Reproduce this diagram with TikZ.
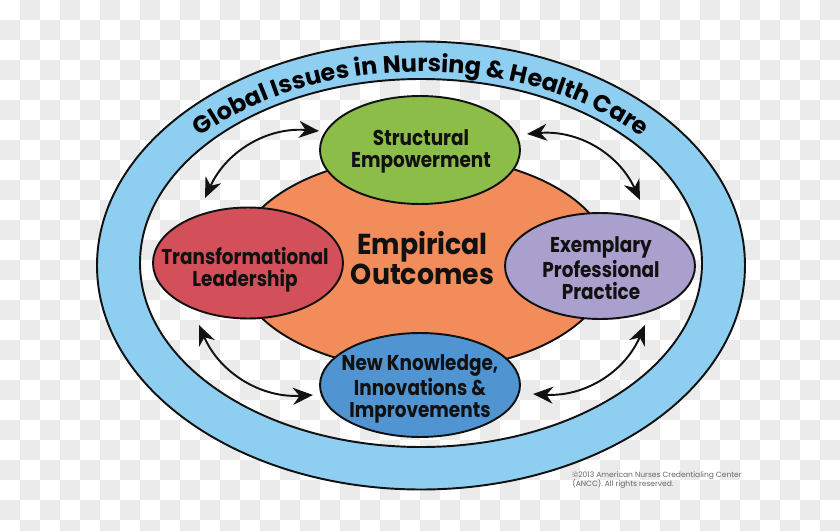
\documentclass[tikz,border=0pt]{standalone}
\usepackage{fontspec}
\newfontfamily\magfont{Poppins}[FakeStretch=0.86]
\newfontfamily\corefont{Poppins}[FakeStretch=0.93]
\newfontfamily\ringfont{Poppins}
\newfontfamily\notefont{Poppins}
\usetikzlibrary{arrows.meta,shapes.geometric,decorations.text}
\definecolor{mgink}{HTML}{111111}
\definecolor{mgring}{HTML}{8ECEF0}
\definecolor{mggreen}{HTML}{8BBD48}
\definecolor{mgorange}{HTML}{F28C5B}
\definecolor{mgred}{HTML}{D3505A}
\definecolor{mgpurple}{HTML}{AAA0CD}
\definecolor{mgblue}{HTML}{5094D1}
\definecolor{mgcheck}{HTML}{EBEBEB}
\definecolor{mgnote}{HTML}{666666}
\newcommand\mgringfont{\ringfont\bfseries\fontsize{13.6}{14}\selectfont}
\tikzset{
  mg check/.style={fill=mgcheck},
  mg ring line/.style={draw=mgink, line width=1.1pt},
  mg oval/.style={ellipse, draw=mgink, line width=1.1pt, inner sep=0pt},
  mg text/.style={font=\magfont\bfseries\fontsize{12.2}{12.6}\selectfont, text=mgink,
    align=center, inner sep=0pt},
  mg big/.style={font=\corefont\bfseries\fontsize{16.4}{17}\selectfont, text=mgink,
    align=center, inner sep=0pt},
  mg arrow/.style={{Stealth[length=4mm,width=3.4mm]}-{Stealth[length=4mm,width=3.4mm]},
    line width=1.1pt, draw=mgink},
  mg note/.style={font=\notefont\fontsize{4.3}{5.4}\selectfont, text=mgnote, align=left,
    inner sep=0pt}
}
\begin{document}
\begin{tikzpicture}[x=0.02cm, y=-0.02cm]
  \useasboundingbox (0,0) rectangle (840,531);
  % checkered backdrop
  \begin{scope}
    \clip (0,0) rectangle (840,531);
    \fill[white] (0,0) rectangle (840,531);
    \foreach \col in {0,...,41}{
      \foreach \row in {0,...,26}{
        \ifodd\numexpr\col+\row\relax
          \fill[mg check] (\col*20,\row*20) rectangle ++(20,20);
        \fi
      }
    }
  \end{scope}
  % outer ring
  \fill[mgring, even odd rule] (421,265.5) ellipse[x radius=324, y radius=224]
    (421,263) ellipse[x radius=281, y radius=184];
  \draw[mg ring line] (421,265.5) ellipse[x radius=324, y radius=224];
  \draw[mg ring line] (421,263) ellipse[x radius=281, y radius=184];
  \path[decorate, decoration={text along path, text align=center,
      text={|\mgringfont|Global Issues in Nursing {\&} Health Care}}]
    (421,265) ++(-150:295 and 193) arc[start angle=-150, end angle=-30, x radius=295, y radius=193];
  % magnet components
  \node[mg oval, fill=mgorange, minimum width=7.52cm, minimum height=4.28cm] (core) at (423,263) {};
  \node[mg oval, fill=mggreen, minimum width=4cm, minimum height=2.16cm] (se) at (420,150) {};
  \node[mg oval, fill=mgred, minimum width=3.8cm, minimum height=2.22cm] (tl) at (248,263) {};
  \node[mg oval, fill=mgpurple, minimum width=3.8cm, minimum height=2.12cm] (ep) at (600,266) {};
  \node[mg oval, fill=mgblue, minimum width=4cm, minimum height=2.08cm] (nk) at (420,385) {};
  \node[mg big] (core text) at (422.5,258) {Empirical\\Outcomes};
  \node[mg text] (se text) at (421,151) {Structural\\Empowerment};
  \node[mg text] (tl text) at (245,270) {Transformational\\Leadership};
  \node[mg text] (ep text) at (601,268) {Exemplary\\Professional\\Practice};
  \node[mg text] (nk text) at (420,389) {New Knowledge,\\Innovations \&\\Improvements};
  % two-way arrows
  \coordinate (se w) at (319,131);
  \coordinate (tl n) at (205,198);
  \coordinate (se e) at (527,134);
  \coordinate (ep n) at (640,200);
  \coordinate (ep s) at (645,325);
  \coordinate (nk e) at (533,394);
  \coordinate (nk w) at (313,395);
  \coordinate (tl s) at (199,325);
  \draw[mg arrow] (tl n) to[bend left=35] (se w);
  \draw[mg arrow] (se e) to[bend left=35] (ep n);
  \draw[mg arrow] (ep s) to[bend left=35] (nk e);
  \draw[mg arrow] (nk w) to[bend left=35] (tl s);
  \node[mg note, anchor=north west] (note) at (572,471)
    {©2013 American Nurses Credentialing Center\\(ANCC). All rights reserved.};
\end{tikzpicture}
\end{document}
